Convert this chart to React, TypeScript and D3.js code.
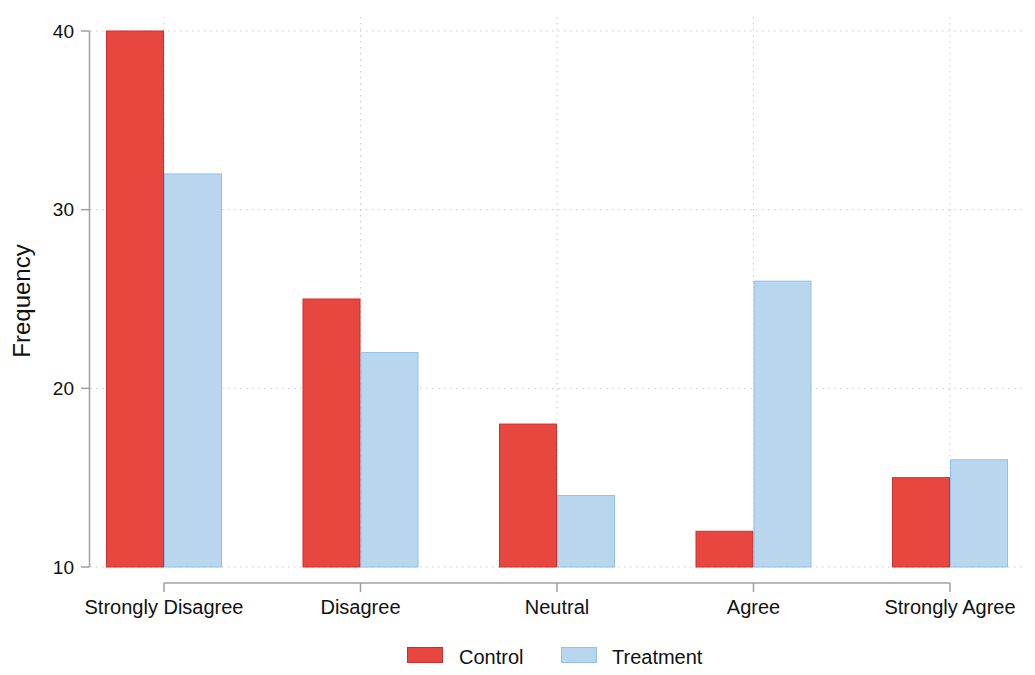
import React from "react";
import * as d3 from "d3";

const categories = ["Strongly Disagree", "Disagree", "Neutral", "Agree", "Strongly Agree"];
const controlValues = [40, 25, 18, 12, 15];
const treatmentValues = [32, 22, 14, 26, 16];
const yTicks = [10, 20, 30, 40];
const seriesNames = ["Control", "Treatment"];

const W = 1035;
const H = 675;
const FONT = "'Liberation Sans', Arial, Helvetica, sans-serif";

export default function App() {
  const x = d3.scalePoint<string>().domain(categories).range([164, 950]);
  const y = d3.scaleLinear().domain([10, 40]).range([567, 31]);
  const barW = 58;
  const gridColor = "#c8c8c8";
  const axisColor = "#a0a0a0";
  const controlFill = "#e8473f";
  const controlStroke = "#c9302c";
  const treatFill = "#b8d7ef";
  const treatStroke = "#92c0e8";

  return (
    <svg width={W} height={H} style={{ position: "absolute", left: 0, top: 0, background: "#fff" }} fontFamily={FONT}>
      {yTicks.map((t) => (
        <line key={"hg" + t} x1={90} x2={1026} y1={y(t)} y2={y(t)} stroke={gridColor} strokeWidth={1} strokeDasharray="1.5,4.5" />
      ))}
      {categories.map((c) => (
        <line key={"vg" + c} x1={x(c)} x2={x(c)} y1={17} y2={567} stroke={gridColor} strokeWidth={1} strokeDasharray="1.5,4.5" />
      ))}
      {categories.map((c, i) => (
        <g key={"b" + c}>
          <rect x={(x(c) as number) - barW + 0.5} y={y(controlValues[i])} width={barW - 1} height={y(10) - y(controlValues[i])} fill={controlFill} stroke={controlStroke} strokeWidth={1} />
          <rect x={(x(c) as number) + 0.5} y={y(treatmentValues[i])} width={barW - 1} height={y(10) - y(treatmentValues[i])} fill={treatFill} stroke={treatStroke} strokeWidth={1} />
        </g>
      ))}
      <line x1={89.5} x2={89.5} y1={y(40)} y2={y(10)} stroke={axisColor} strokeWidth={1.5} />
      {yTicks.map((t) => (
        <g key={"yt" + t}>
          <line x1={81} x2={89.5} y1={y(t)} y2={y(t)} stroke={axisColor} strokeWidth={1.5} />
          <text x={74} y={y(t)} dy="0.35em" textAnchor="end" fontSize={19} fill="#111">{t}</text>
        </g>
      ))}
      <text transform={`translate(30,301) rotate(-90)`} textAnchor="middle" fontSize={24} fill="#111">Frequency</text>
      <line x1={164} x2={950} y1={583} y2={583} stroke={axisColor} strokeWidth={1.5} />
      {categories.map((c) => (
        <g key={"xt" + c}>
          <line x1={x(c)} x2={x(c)} y1={583} y2={592} stroke={axisColor} strokeWidth={1.5} />
          <text x={x(c)} y={614} textAnchor="middle" fontSize={20} fill="#111">{c}</text>
        </g>
      ))}
      <rect x={407.5} y={647.5} width={35} height={15} fill={controlFill} stroke={controlStroke} />
      <text x={459} y={664} fontSize={20} fill="#111">{seriesNames[0]}</text>
      <rect x={561.5} y={647.5} width={35} height={15} fill={treatFill} stroke={treatStroke} />
      <text x={612} y={664} fontSize={20} fill="#111">{seriesNames[1]}</text>
    </svg>
  );
}
